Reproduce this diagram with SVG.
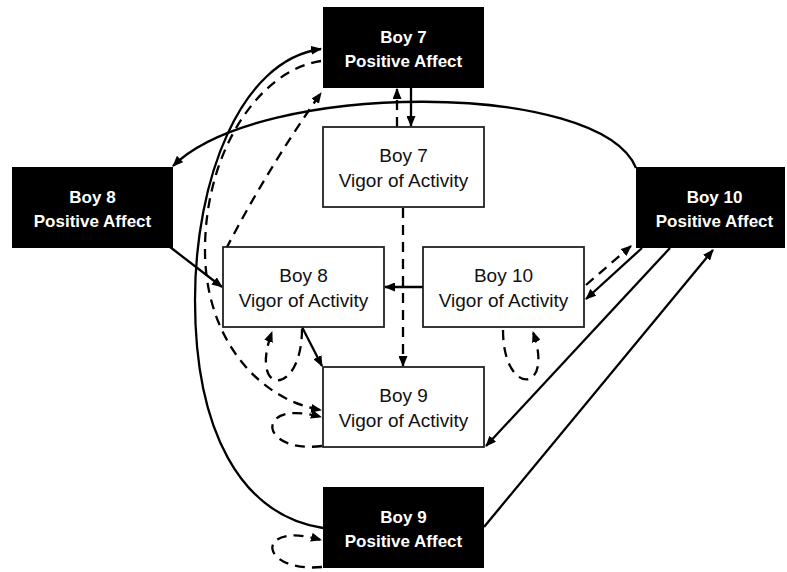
<svg xmlns="http://www.w3.org/2000/svg" width="787" height="572" viewBox="0 0 787 572">
  <style>
    .pa rect { fill: #000; }
    .pa text { fill: #fff; font-family: "Liberation Sans", Arial, sans-serif; font-weight: bold; font-size: 17px; text-anchor: middle; }
    .va rect { fill: #fff; stroke: #222; stroke-width: 1.8; }
    .va text { fill: #111; font-family: "Liberation Sans", Arial, sans-serif; font-size: 19px; text-anchor: middle; }
    .edge { fill: none; stroke: #000; stroke-width: 2.3; }
    .solid { marker-end: url(#arrow); }
    .dash { stroke-dasharray: 10 7; marker-end: url(#arrow); }
  </style>
  <defs>
    <marker id="arrow" markerUnits="userSpaceOnUse" markerWidth="11" markerHeight="9" refX="10" refY="4.5" orient="auto">
      <path d="M0,0 L11,4.5 L0,9 Z" fill="#000"/>
    </marker>
  </defs>

  <rect width="787" height="572" fill="#fff"/>

  <!-- connectors -->
  <g id="connectors">
    <!-- Boy 7: affect and vigor -->
    <path class="edge solid" d="M411,88 L411,126"/>
    <path class="edge dash" d="M397,127 L397,89"/>
    <!-- long arc from Boy 10 affect to Boy 8 affect -->
    <path class="edge solid" d="M636,168 C600,80 260,80 173,166"/>
    <!-- Boy 8 affect to Boy 8 vigor -->
    <path class="edge solid" d="M170,247 L222,287"/>
    <!-- Boy 10 vigor to Boy 8 vigor -->
    <path class="edge solid" d="M423,287 L385,287"/>
    <!-- Boy 7 vigor to Boy 9 vigor -->
    <path class="edge dash" d="M403,208 L403,366"/>
    <!-- Boy 8 vigor to Boy 9 vigor -->
    <path class="edge solid" d="M302,327 L322,366"/>
    <!-- Boy 8 vigor self loop -->
    <path class="edge dash" d="M302,329 C302,397 248,397 272,332"/>
    <!-- Boy 10 vigor self loop -->
    <path class="edge dash" d="M503,330 C503,397 555,394 533,332"/>
    <!-- Boy 10 vigor and Boy 10 affect -->
    <path class="edge dash" d="M586,285 L631,246"/>
    <path class="edge solid" d="M642,248 L586,299"/>
    <!-- Boy 10 affect to Boy 9 vigor -->
    <path class="edge solid" d="M670,248 L486,446"/>
    <!-- Boy 9 affect to Boy 10 affect -->
    <path class="edge solid" d="M484,527 L713,250"/>
    <!-- Boy 9 vigor self loop -->
    <path class="edge dash" d="M322,446 C258,454 254,398 321,417"/>
    <!-- Boy 9 affect self loop -->
    <path class="edge dash" d="M322,567 C258,573 254,520 321,540"/>
    <!-- Boy 9 affect to Boy 7 affect -->
    <path class="edge solid" d="M323,528 C240,515 195,430 195,300 C195,180 240,60 321,49"/>
    <!-- Boy 7 affect to Boy 9 vigor -->
    <path class="edge dash" d="M321,61 C260,70 205,150 205,250 C205,340 260,400 321,410"/>
    <!-- Boy 8 vigor to Boy 7 affect -->
    <path class="edge dash" d="M226,249 Q268,168 321,93"/>
  </g>

  <!-- nodes -->
  <g id="boy7-affect" class="pa">
    <rect x="323" y="7" width="161" height="81"/>
    <text x="403.5" y="43">Boy 7</text>
    <text x="403.5" y="67">Positive Affect</text>
  </g>
  <g id="boy8-affect" class="pa">
    <rect x="12" y="167" width="161" height="81"/>
    <text x="92.5" y="203">Boy 8</text>
    <text x="92.5" y="227">Positive Affect</text>
  </g>
  <g id="boy10-affect" class="pa">
    <rect x="636" y="167" width="149" height="81"/>
    <text x="714.5" y="203">Boy 10</text>
    <text x="714.5" y="227">Positive Affect</text>
  </g>
  <g id="boy9-affect" class="pa">
    <rect x="323" y="487" width="161" height="81"/>
    <text x="403.5" y="523">Boy 9</text>
    <text x="403.5" y="547">Positive Affect</text>
  </g>
  <g id="boy7-vigor" class="va">
    <rect x="323" y="127" width="161" height="80"/>
    <text x="403.5" y="162">Boy 7</text>
    <text x="403.5" y="187">Vigor of Activity</text>
  </g>
  <g id="boy8-vigor" class="va">
    <rect x="223" y="247" width="161" height="80"/>
    <text x="303.5" y="282">Boy 8</text>
    <text x="303.5" y="307">Vigor of Activity</text>
  </g>
  <g id="boy10-vigor" class="va">
    <rect x="423" y="247" width="161" height="80"/>
    <text x="503.5" y="282">Boy 10</text>
    <text x="503.5" y="307">Vigor of Activity</text>
  </g>
  <g id="boy9-vigor" class="va">
    <rect x="323" y="367" width="161" height="80"/>
    <text x="403.5" y="402">Boy 9</text>
    <text x="403.5" y="427">Vigor of Activity</text>
  </g>
</svg>
